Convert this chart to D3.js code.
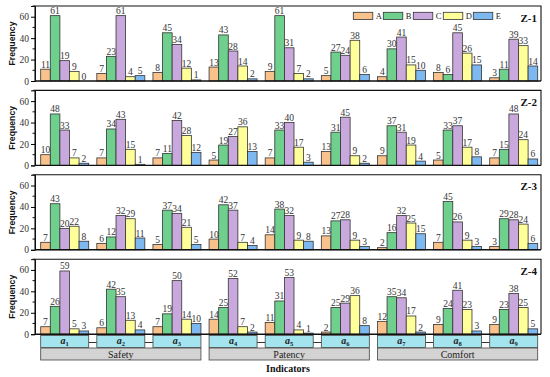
<!DOCTYPE html>
<html>
<head>
<meta charset="utf-8">
<script src="https://cdn.jsdelivr.net/npm/d3@7"></script>
<style>
  body { margin: 0; background: #fff; }
  svg { display: block; }
  .val { font-family: "Liberation Serif", serif; font-size: 9.5px; fill: #333; }
  .tick text { font-family: "Liberation Serif", serif; font-size: 9.5px; fill: #333; }
</style>
</head>
<body>
<div id="chart" style="width:550px;height:377px"></div>
<script>
const indicators = ['1', '2', '3', '4', '5', '6', '7', '8', '9'];
const levels = ['A', 'B', 'C', 'D', 'E'];
const colors = ['#f9c18c', '#6fd08e', '#c9a9dd', '#ffff99', '#7db8f0'];
const panelNames = ['Z-1', 'Z-2', 'Z-3', 'Z-4'];
const groups = [
  {name: 'Safety', from: 0, to: 2},
  {name: 'Patency', from: 3, to: 5},
  {name: 'Comfort', from: 6, to: 8}
];
const yTicks = [0, 20, 40, 60];

// one row per indicator, values for A..E
const z1 = [
  [11, 61, 19, 9, 0], [7, 23, 61, 4, 5], [8, 45, 34, 12, 1],
  [13, 43, 28, 14, 2], [9, 61, 31, 7, 2], [5, 27, 24, 38, 6],
  [4, 30, 41, 15, 10], [8, 6, 45, 26, 15], [3, 11, 39, 33, 14]
];
const z2 = [
  [10, 48, 33, 7, 2], [7, 34, 43, 15, 1], [7, 11, 42, 28, 12],
  [5, 19, 27, 36, 13], [7, 33, 40, 17, 3], [13, 31, 45, 9, 2],
  [9, 37, 31, 19, 4], [5, 33, 37, 17, 8], [7, 15, 48, 24, 6]
];
const z3 = [
  [7, 43, 20, 22, 8], [6, 12, 32, 29, 11], [5, 37, 34, 21, 5],
  [10, 42, 37, 7, 4], [14, 38, 32, 9, 8], [13, 27, 28, 9, 3],
  [2, 16, 32, 25, 15], [7, 45, 26, 9, 3], [3, 29, 28, 24, 6]
];
const z4 = [
  [7, 26, 59, 5, 3], [6, 42, 35, 13, 4], [7, 19, 50, 14, 10],
  [14, 25, 52, 7, 2], [11, 31, 53, 4, 1], [2, 25, 29, 36, 8],
  [12, 35, 34, 17, 2], [9, 24, 41, 23, 3], [9, 23, 38, 25, 5]
];
const panels = [z1, z2, z3, z4];

const width = 550, height = 377;
const left = 35, right = 541;
const panelTop = 6, panelH = 75, panelStep = 84.4;

const svg = d3.select('#chart').append('svg')
  .attr('width', width)
  .attr('height', height);

const xScale = d3.scaleBand()
  .domain(indicators)
  .range([40.7, 537.7])
  .paddingInner(0.145)
  .paddingOuter(0);

const xInner = d3.scaleBand()
  .domain(levels)
  .range([0, xScale.bandwidth()]);

const yScale = d3.scaleLinear()
  .domain([0, 70])
  .range([panelH, 0]);

panels.forEach((data, p) => {
  const g = svg.append('g')
    .attr('transform', `translate(0,${panelTop + p * panelStep})`);

  // frame (top + right)
  g.append('path')
    .attr('d', `M${left},${panelH}V0H${right}V${panelH}`)
    .attr('fill', 'none')
    .attr('stroke', '#111')
    .attr('stroke-width', 1.1);

  const yAxis = d3.axisLeft(yScale)
    .tickValues(yTicks)
    .tickSize(4)
    .tickPadding(2);
  const yAxisG = g.append('g')
    .attr('transform', `translate(${left},0)`)
    .call(yAxis);
  yAxisG.select('.domain').attr('stroke', '#111');
  // minor ticks
  yAxisG.selectAll('.minor')
    .data([10, 30, 50, 70])
    .join('line')
    .attr('class', 'minor')
    .attr('x1', -2.5).attr('x2', 0)
    .attr('y1', d => yScale(d)).attr('y2', d => yScale(d))
    .attr('stroke', '#111');

  g.append('text')
    .attr('transform', `translate(15,${panelH / 2}) rotate(-90)`)
    .attr('text-anchor', 'middle')
    .attr('font-family', '"Liberation Sans", Arial, sans-serif')
    .attr('font-weight', 'bold')
    .attr('font-size', 8.7)
    .attr('fill', '#111')
    .text('Frequency');

  const grp = g.selectAll('.grp')
    .data(data)
    .join('g')
    .attr('class', 'grp')
    .attr('transform', (d, i) => `translate(${xScale(indicators[i])},0)`);

  grp.selectAll('rect')
    .data(d => d.map((v, k) => ({v, k})))
    .join('rect')
    .attr('x', d => xInner(levels[d.k]))
    .attr('y', d => yScale(d.v))
    .attr('width', xInner.bandwidth())
    .attr('height', d => panelH - yScale(d.v))
    .attr('fill', d => colors[d.k])
    .attr('stroke', '#333')
    .attr('stroke-width', 0.8);

  grp.selectAll('.val')
    .data(d => d.map((v, k) => ({v, k})))
    .join('text')
    .attr('class', 'val')
    .attr('x', d => xInner(levels[d.k]) + xInner.bandwidth() / 2)
    .attr('y', d => yScale(d.v) - 1.5)
    .attr('text-anchor', 'middle')
    .text(d => d.v);

  // bottom axis line
  g.append('line')
    .attr('x1', left).attr('x2', right)
    .attr('y1', panelH).attr('y2', panelH)
    .attr('stroke', '#111')
    .attr('stroke-width', 1.4);

  g.append('text')
    .attr('x', 537)
    .attr('y', 15.5)
    .attr('text-anchor', 'end')
    .attr('font-family', '"Liberation Serif", serif')
    .attr('font-weight', 'bold')
    .attr('font-size', 11)
    .attr('fill', '#111')
    .text(panelNames[p]);

  if (p === 0) {
    const legend = g.append('g').attr('transform', 'translate(353.3,6.3)');
    const item = legend.selectAll('g')
      .data(levels)
      .join('g')
      .attr('transform', (d, i) => `translate(${i * 30},0)`);
    item.append('rect')
      .attr('width', 19.5).attr('height', 7.2)
      .attr('fill', (d, i) => colors[i])
      .attr('stroke', '#333')
      .attr('stroke-width', 0.8);
    item.append('text')
      .attr('x', 22.5).attr('y', 7)
      .attr('font-family', '"Liberation Serif", serif')
      .attr('font-size', 8.5)
      .attr('fill', '#222')
      .text(d => d);
  }
});

// indicator boxes
const boxTop = 335.5, boxH = 12;
const catTop = 348, catH = 12;
const bottom = svg.append('g');

groups.forEach(gr => {
  for (let i = gr.from; i < gr.to; i++) {
    bottom.append('line')
      .attr('x1', xScale(indicators[i]) + xScale.bandwidth())
      .attr('x2', xScale(indicators[i + 1]))
      .attr('y1', boxTop + boxH / 2 + 1).attr('y2', boxTop + boxH / 2 + 1)
      .attr('stroke', '#333');
  }
  const x0 = xScale(indicators[gr.from]);
  const x1 = xScale(indicators[gr.to]) + xScale.bandwidth();
  bottom.append('rect')
    .attr('x', x0).attr('y', catTop)
    .attr('width', x1 - x0).attr('height', catH)
    .attr('fill', '#d3d3d3')
    .attr('stroke', '#444')
    .attr('stroke-width', 0.8);
  bottom.append('text')
    .attr('x', (x0 + x1) / 2).attr('y', catTop + 9.5)
    .attr('text-anchor', 'middle')
    .attr('font-family', '"Liberation Serif", serif')
    .attr('font-size', 10)
    .attr('fill', '#222')
    .text(gr.name);
});

const box = bottom.selectAll('.ind')
  .data(indicators)
  .join('g')
  .attr('class', 'ind')
  .attr('transform', d => `translate(${xScale(d)},${boxTop})`);
box.append('rect')
  .attr('width', xScale.bandwidth()).attr('height', boxH)
  .attr('fill', '#a3e4ee')
  .attr('stroke', '#444')
  .attr('stroke-width', 0.8);
const lbl = box.append('text')
  .attr('x', xScale.bandwidth() / 2).attr('y', 8.5)
  .attr('text-anchor', 'middle')
  .attr('font-family', '"Liberation Serif", serif')
  .attr('font-weight', 'bold')
  .attr('fill', '#222');
lbl.append('tspan')
  .attr('font-style', 'italic')
  .attr('font-size', 10)
  .text('a');
lbl.append('tspan')
  .attr('font-size', 6.5)
  .attr('dy', 2)
  .text(d => d);

svg.append('text')
  .attr('x', (left + right) / 2)
  .attr('y', 372)
  .attr('text-anchor', 'middle')
  .attr('font-family', '"Liberation Serif", serif')
  .attr('font-weight', 'bold')
  .attr('font-size', 10)
  .attr('fill', '#111')
  .text('Indicators');
</script>
</body>
</html>
